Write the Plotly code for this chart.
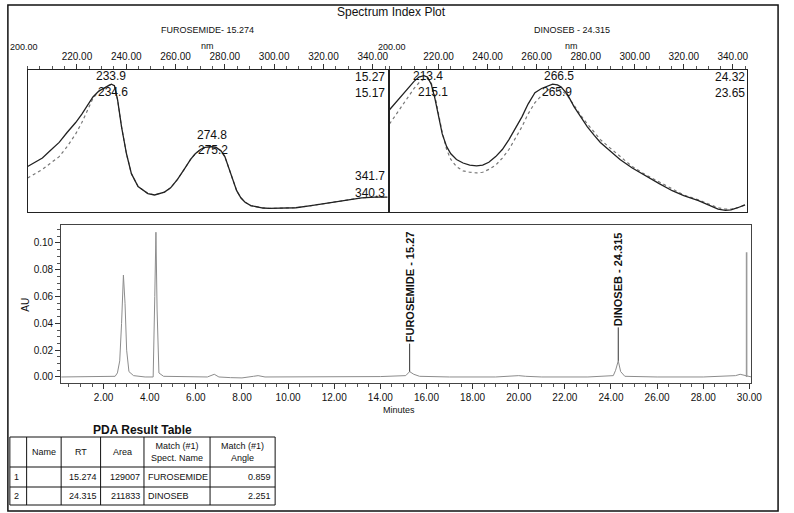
import plotly.graph_objects as go

W, H = 794, 513
FONT = "Liberation Sans, Arial, sans-serif"
INK = "#111111"


def px(x):
    return x / W


def py(y):
    return 1 - y / H


# ---------------- Spectrum panels (normalised absorbance) ----------------
furo_nm = [200, 203, 206, 209, 212.8, 216, 219.5, 222, 224.8, 226.5,
           228.8, 231, 232.8, 234, 235.2, 236.5, 238.1, 240.1, 242.1, 244.8,
           248.8, 251.5, 255.5, 258, 260.8, 263.5, 266.1, 268, 270.1, 272,
           274.5, 276.5, 278.5, 280, 282.1, 283.5, 284.8, 286.5, 288.1, 290.5,
           292.8, 295.5, 298.1, 303, 308.8, 315, 322.1, 329, 335.5, 341, 346]
furo_solid = [0.32, 0.35, 0.38, 0.43, 0.49, 0.56, 0.63, 0.69, 0.77, 0.81,
              0.85, 0.875, 0.89, 0.90, 0.89, 0.79, 0.60, 0.41, 0.27, 0.18,
              0.13, 0.12, 0.14, 0.17, 0.23, 0.30, 0.37, 0.41, 0.44, 0.455,
              0.46, 0.455, 0.43, 0.39, 0.28, 0.22, 0.15, 0.10, 0.07, 0.045,
              0.035, 0.028, 0.025, 0.025, 0.03, 0.045, 0.065, 0.08, 0.10, 0.105, 0.105]
furo_dot = [0.24, 0.27, 0.30, 0.34, 0.39, 0.46, 0.55, 0.63, 0.74, 0.80,
            0.85, 0.875, 0.89, 0.90, 0.89, 0.79, 0.60, 0.41, 0.27, 0.18,
            0.13, 0.12, 0.14, 0.17, 0.23, 0.30, 0.37, 0.41, 0.44, 0.455,
            0.46, 0.455, 0.43, 0.39, 0.28, 0.22, 0.15, 0.10, 0.07, 0.045,
            0.035, 0.028, 0.025, 0.025, 0.03, 0.045, 0.065, 0.08, 0.10, 0.105, 0.105]

dino_nm = [200, 202, 204, 206, 208, 210, 212, 214, 215.5, 217,
           218.5, 220, 221.5, 223.3, 225, 227.3, 230, 232.7, 235.5, 238,
           240.5, 243.3, 246, 248.7, 251.5, 254, 256.5, 259.3, 262, 264.7,
           266.5, 268.5, 270, 272.5, 275.3, 278, 280.7, 283.5, 286, 290,
           294, 299, 304.7, 310, 315.3, 320, 326, 330, 334, 337,
           339.3, 342, 345]
dino_solid = [0.72, 0.76, 0.80, 0.84, 0.88, 0.92, 0.95, 0.96, 0.95, 0.90,
              0.80, 0.67, 0.55, 0.46, 0.41, 0.37, 0.345, 0.33, 0.325, 0.33,
              0.35, 0.39, 0.44, 0.51, 0.59, 0.67, 0.76, 0.84, 0.87, 0.89,
              0.90, 0.895, 0.88, 0.83, 0.74, 0.67, 0.60, 0.54, 0.49, 0.43,
              0.37, 0.31, 0.25, 0.20, 0.15, 0.115, 0.08, 0.05, 0.02, 0.012,
              0.015, 0.03, 0.05]
dino_dot = [0.62, 0.67, 0.72, 0.77, 0.82, 0.87, 0.91, 0.935, 0.94, 0.91,
            0.82, 0.69, 0.56, 0.44, 0.37, 0.32, 0.29, 0.28, 0.275, 0.28,
            0.30, 0.33, 0.38, 0.44, 0.52, 0.60, 0.69, 0.77, 0.82, 0.86,
            0.87, 0.87, 0.86, 0.82, 0.75, 0.68, 0.62, 0.56, 0.51, 0.45,
            0.39, 0.32, 0.26, 0.21, 0.16, 0.12, 0.085, 0.055, 0.03, 0.02,
            0.02, 0.03, 0.05]

spec_ticks = [220, 240, 260, 280, 300, 320, 340]

# peak-wavelength labels (value, height in panel units)
furo_peak_lbl = [233.9, 234.6, 274.8, 275.2]
furo_peak_y = [0.955, 0.845, 0.545, 0.435]
furo_edge_lbl = ["15.27", "15.17", "341.7", "340.3"]
furo_edge_y = [0.95, 0.84, 0.255, 0.135]
dino_peak_lbl = [213.4, 215.1, 266.5, 265.9]
dino_peak_y = [0.955, 0.845, 0.955, 0.845]
dino_edge_lbl = ["24.32", "23.65"]
dino_edge_y = [0.95, 0.835]

# ---------------- Chromatogram ----------------
chrom_t = [0.16, 1.0, 2.0, 2.5, 2.6, 2.7, 2.78, 2.86, 2.93, 3.0,
           3.1, 3.3, 3.8, 4.15, 4.22, 4.27, 4.32, 4.4, 4.6, 5.5,
           6.5, 6.8, 7.0, 7.5, 8.0, 8.5, 8.7, 9.0, 10.0, 12.0,
           14.0, 15.1, 15.27, 15.45, 15.7, 17.0, 19.0, 20.0, 20.3, 21.0,
           23.0, 24.1, 24.2, 24.315, 24.42, 24.6, 26.0, 28.0, 29.4, 29.6,
           29.85, 30.09]
chrom_au = [0.0, 0.0, 0.0, 0.0005, 0.003, 0.012, 0.04, 0.076, 0.055, 0.02,
            0.004, 0.001, 0.0, 0.0, 0.06, 0.108, 0.05, 0.003, 0.0005, 0.0,
            0.0, 0.002, 0.0, -0.0005, -0.0007, 0.0005, 0.001, 0.0, 0.0, 0.0,
            0.0003, 0.001, 0.004, 0.002, 0.0005, 0.0, 0.0, 0.001, 0.0005, 0.0,
            0.0, 0.001, 0.005, 0.012, 0.004, 0.0005, 0.0, 0.0, 0.001, 0.002,
            0.0008, 0.0]
chrom_xticks = [2, 4, 6, 8, 10, 12, 14, 16, 18, 20, 22, 24, 26, 28, 30]
chrom_yticks = [0.0, 0.02, 0.04, 0.06, 0.08, 0.10]

peak_labels = ["FUROSEMIDE - 15.27", "DINOSEB - 24.315"]
peak_rt = [15.27, 24.315]
peak_top = [0.004, 0.012]
peak_offset = [-85, -82]

end_marker_t = 29.88
end_marker_au = [0.0, 0.093]

# ---------------- Result table ----------------
tbl_header = ["", "Name", "RT", "Area", "Match (#1)<br>Spect. Name", "Match (#1)<br>Angle"]
tbl_idx = ["1", "2"]
tbl_name = ["", ""]
tbl_rt = ["15.274", "24.315"]
tbl_area = ["129007", "211833"]
tbl_spect = ["FUROSEMIDE", "DINOSEB"]
tbl_angle = ["0.859", "2.251"]
tbl_align = ["left", "left", "right", "right", "left", "right"]

fig = go.Figure()

solid_line = dict(color="#222222", width=1.3)
dot_line = dict(color="#777777", width=1.2, dash="dot")

fig.add_trace(go.Scatter(x=furo_nm, y=furo_dot, mode="lines", line=dot_line, xaxis="x", yaxis="y"))
fig.add_trace(go.Scatter(x=furo_nm, y=furo_solid, mode="lines", line=solid_line, xaxis="x", yaxis="y"))
fig.add_trace(go.Scatter(x=dino_nm, y=dino_dot, mode="lines", line=dot_line, xaxis="x2", yaxis="y2"))
fig.add_trace(go.Scatter(x=dino_nm, y=dino_solid, mode="lines", line=solid_line, xaxis="x2", yaxis="y2"))

fig.add_trace(go.Scatter(x=chrom_t, y=chrom_au, mode="lines",
                         line=dict(color="#8c8c8c", width=1), xaxis="x3", yaxis="y3"))
fig.add_trace(go.Scatter(x=[end_marker_t, end_marker_t], y=end_marker_au, mode="lines",
                         line=dict(color="#9a9a9a", width=1.6), xaxis="x3", yaxis="y3"))

spec_x_common = dict(range=[200, 346], side="top", tickvals=spec_ticks,
                     ticktext=[f"{v:.2f}" for v in spec_ticks], ticks="outside", ticklen=5,
                     tickcolor="#333", showline=True, linecolor="#222", linewidth=1,
                     mirror=True, showgrid=False, zeroline=False,
                     tickfont=dict(family=FONT, size=10, color=INK),
                     minor=dict(dtick=5, tick0=200, ticks="outside", ticklen=3, tickcolor="#555"))
spec_y_common = dict(range=[0, 1], showticklabels=False, ticks="", showgrid=False,
                     zeroline=False, showline=True, linecolor="#222", linewidth=1, mirror=True)

fig.update_layout(
    width=W, height=H, margin=dict(l=0, r=0, t=0, b=0),
    paper_bgcolor="white", plot_bgcolor="white", showlegend=False,
    font=dict(family=FONT, size=10, color=INK),
    xaxis=dict(domain=[px(28), px(393)], anchor="y", **spec_x_common),
    yaxis=dict(domain=[py(212), py(70)], anchor="x", **spec_y_common),
    xaxis2=dict(domain=[px(395), px(758)], anchor="y2", **spec_x_common),
    yaxis2=dict(domain=[py(212), py(70)], anchor="x2", **spec_y_common),
    xaxis3=dict(domain=[px(62), px(762)], anchor="y3", range=[0.16, 30.09],
                tickvals=chrom_xticks, ticktext=[f"{v:.2f}" for v in chrom_xticks],
                ticks="outside", ticklen=5, tickcolor="#333", showline=True,
                linecolor="#444", linewidth=1, mirror=True, showgrid=False, zeroline=False,
                tickfont=dict(family=FONT, size=10, color=INK),
                minor=dict(dtick=0.5, tick0=0, ticks="outside", ticklen=3, tickcolor="#555")),
    yaxis3=dict(domain=[py(383), py(225)], anchor="x3", range=[-0.0045, 0.1134],
                tickvals=chrom_yticks, ticktext=[f"{v:.2f}" for v in chrom_yticks],
                ticks="outside", ticklen=5, tickcolor="#333", showline=True,
                linecolor="#444", linewidth=1, mirror=True, showgrid=False, zeroline=False,
                tickfont=dict(family=FONT, size=10, color=INK),
                minor=dict(dtick=0.005, tick0=0, ticks="outside", ticklen=3, tickcolor="#555")),
)

ann = []


def text(x, y, s, size=10, xanchor="center", yanchor="middle", bold=False, angle=0,
         xref="paper", yref="paper", xshift=0):
    ann.append(dict(x=x, y=y, xref=xref, yref=yref, text=f"<b>{s}</b>" if bold else s,
                    showarrow=False, xanchor=xanchor, yanchor=yanchor, textangle=angle,
                    xshift=xshift, borderpad=0, font=dict(family=FONT, size=size, color=INK)))


# headings
text(px(397), py(12), "Spectrum Index Plot", size=12)
text(px(210), py(30), "FUROSEMIDE- 15.274", size=9)
text(px(580), py(30), "DINOSEB - 24.315", size=9)
text(px(210), py(46), "nm", size=9)
text(px(580), py(46), "nm", size=9)
text(px(24), py(47), "200.00", size=9)
text(px(397), py(47), "200.00", size=9)

# spectrum peak labels
for v, yv in zip(furo_peak_lbl, furo_peak_y):
    text(v, yv, f"{v:.1f}", size=12, xref="x", yref="y")
for s, yv in zip(furo_edge_lbl, furo_edge_y):
    text(1.0, yv, s, size=12, xanchor="right", xref="x domain", yref="y", xshift=-2)
for v, yv in zip(dino_peak_lbl, dino_peak_y):
    text(v, yv, f"{v:.1f}", size=12, xref="x2", yref="y2", xshift=6)
for s, yv in zip(dino_edge_lbl, dino_edge_y):
    text(1.0, yv, s, size=12, xanchor="right", xref="x2 domain", yref="y2", xshift=-1)

# chromatogram axis titles
text(px(25), py(305), "AU", size=10, angle=-90)
text(px(405), py(410), "Minutes", size=9)

# chromatogram peak labels with leader lines
for lbl, rt, top, off in zip(peak_labels, peak_rt, peak_top, peak_offset):
    ann.append(dict(x=rt, y=top, xref="x3", yref="y3", text=f"<b>{lbl}</b>",
                    showarrow=True, arrowhead=0, arrowwidth=1, arrowcolor="#333",
                    ax=0, ay=off, textangle=-90,
                    font=dict(family=FONT, size=11, color=INK)))

# ---------------- PDA result table (grid + cell texts) ----------------
col_x = [10, 27, 62, 102, 146, 213, 279]
row_y = [437, 467, 487, 505]
text(px((col_x[0] + col_x[-1]) / 2), py(430), "PDA Result Table", size=12, bold=True)

shapes = []
for xv in col_x:
    shapes.append(dict(type="line", xref="paper", yref="paper", x0=px(xv), x1=px(xv),
                       y0=py(row_y[0]), y1=py(row_y[-1]), line=dict(color=INK, width=1)))
for yv in row_y:
    shapes.append(dict(type="line", xref="paper", yref="paper", x0=px(col_x[0]), x1=px(col_x[-1]),
                       y0=py(yv), y1=py(yv), line=dict(color=INK, width=1)))

hdr_mid = (row_y[0] + row_y[1]) / 2
for j, h in enumerate(tbl_header):
    if h:
        text(px((col_x[j] + col_x[j + 1]) / 2), py(hdr_mid), h, size=9)

columns = [tbl_idx, tbl_name, tbl_rt, tbl_area, tbl_spect, tbl_angle]
for j, col in enumerate(columns):
    for i, val in enumerate(col):
        if not val:
            continue
        ymid = (row_y[i + 1] + row_y[i + 2]) / 2
        if tbl_align[j] == "left":
            text(px(col_x[j] + 3), py(ymid), val, size=9, xanchor="left")
        else:
            text(px(col_x[j + 1] - 3), py(ymid), val, size=9, xanchor="right")

fig.update_layout(annotations=ann)

# outer frame of the report page
shapes.append(dict(type="rect", xref="paper", yref="paper", x0=px(8), x1=px(789),
                   y0=py(511), y1=py(5), line=dict(color=INK, width=1.5)))
fig.update_layout(shapes=shapes)

fig.write_html("out.html")
